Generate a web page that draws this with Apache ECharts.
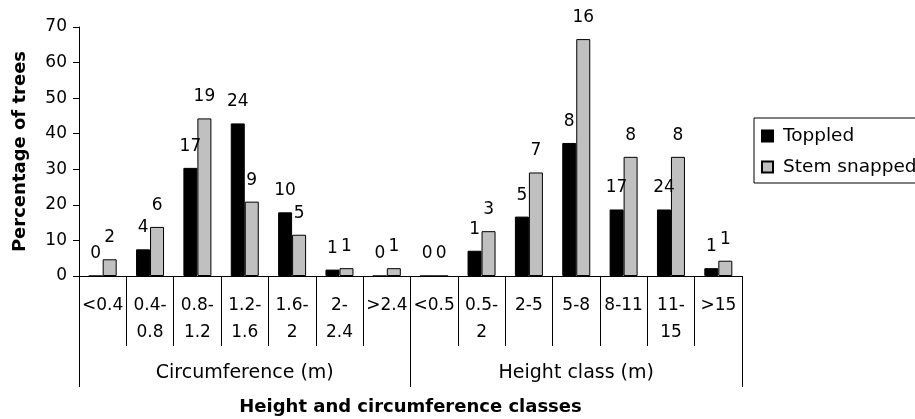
<!DOCTYPE html>
<html>
<head>
<meta charset="utf-8">
<script src="https://cdn.jsdelivr.net/npm/echarts@6/dist/echarts.min.js"></script>
<style>
html,body{margin:0;padding:0;background:#fff;}
#chart{width:915px;height:419px;}
</style>
</head>
<body>
<div id="chart"></div>
<script>
// Categories
var categories = ['<0.4','0.4-\n0.8','0.8-\n1.2','1.2-\n1.6','1.6-\n2','2-\n2.4','>2.4',
                  '<0.5','0.5-\n2','2-5','5-8','8-11','11-\n15','>15'];
var groups = ['Circumference (m)', 'Height class (m)'];
// Percentage of trees
var toppledPct = [0, 7.5, 30.4, 42.9, 17.9, 1.8, 0,   0, 7.1, 16.7, 37.4, 18.7, 18.7, 2.2];
var stemPct    = [4.7, 13.8, 44.3, 20.9, 11.6, 2.2, 2.2,   0, 12.6, 29.1, 66.6, 33.5, 33.5, 4.3];
// Counts shown above bars
var toppledCounts = [0, 4, 17, 24, 10, 1, 0,   0, 1, 5, 8, 17, 24, 1];
var stemCounts    = [2, 6, 19, 9, 5, 1, 1,   0, 3, 7, 16, 8, 8, 1];
var yTicks = {min: 0, max: 70, interval: 10};

var FONT = 'DejaVu Sans';
var chart = echarts.init(document.getElementById('chart'));
var labelStyle = {fontFamily: FONT, fontSize: 17, color: '#000'};
chart.setOption({
  animation: false,
  backgroundColor: '#fff',
  textStyle: {fontFamily: FONT, color: '#000'},
  grid: {left: 79, right: 173, top: 27, bottom: 143, containLabel: false, outerBoundsMode: 'none'},
  legend: {
    orient: 'vertical',
    left: 754, top: 118,
    padding: [7, 60, 5, 7],
    itemGap: 9,
    itemWidth: 11, itemHeight: 11,
    icon: 'rect',
    borderColor: '#000', borderWidth: 1,
    textStyle: {fontFamily: FONT, fontSize: 18.5, color: '#000', lineHeight: 22, padding: [0, 0, 0, 5]},
    data: ['Toppled', 'Stem snapped']
  },
  xAxis: [{
    type: 'category',
    data: categories,
    position: 'bottom',
    name: 'Height and circumference classes',
    nameLocation: 'middle',
    nameGap: 122,
    nameTextStyle: {fontFamily: FONT, fontSize: 18, fontWeight: 'bold', color: '#000', verticalAlign: 'top'},
    axisLine: {show: true, lineStyle: {color: '#000', width: 1}},
    axisTick: {show: true, interval: 0, length: 70, lineStyle: {color: '#000', width: 1}},
    axisLabel: {interval: 0, margin: 16, fontFamily: FONT, fontSize: 17, color: '#000', lineHeight: 27, verticalAlign: 'top'},
    splitLine: {show: false}
  }, {
    type: 'category',
    data: groups,
    position: 'bottom',
    axisLine: {show: false},
    axisTick: {show: true, interval: 0, length: 111, lineStyle: {color: '#000', width: 1}},
    axisLabel: {interval: 0, margin: 86, fontFamily: FONT, fontSize: 19, color: '#000', lineHeight: 22, verticalAlign: 'top'},
    splitLine: {show: false}
  }],
  yAxis: {
    type: 'value',
    min: yTicks.min, max: yTicks.max, interval: yTicks.interval,
    name: 'Percentage of trees',
    nameLocation: 'middle',
    nameGap: 50,
    nameRotate: 90,
    nameTextStyle: {fontFamily: FONT, fontSize: 18, fontWeight: 'bold', color: '#000'},
    axisLine: {show: true, lineStyle: {color: '#000', width: 1}},
    axisTick: {show: true, length: 6, lineStyle: {color: '#000'}},
    axisLabel: {margin: 12, fontFamily: FONT, fontSize: 17, color: '#000'},
    splitLine: {show: false}
  },
  series: [{
    name: 'Toppled',
    type: 'bar',
    xAxisIndex: 0,
    data: toppledPct,
    barWidth: 14,
    barGap: '0%',
    itemStyle: {color: '#000', borderColor: '#000', borderWidth: 1},
    label: Object.assign({show: true, position: 'top', distance: 13,
      formatter: function (p) { return String(toppledCounts[p.dataIndex]); }}, labelStyle)
  }, {
    name: 'Stem snapped',
    type: 'bar',
    xAxisIndex: 0,
    data: stemPct,
    barWidth: 14,
    barGap: '0%',
    itemStyle: {color: '#c0c0c0', borderColor: '#000', borderWidth: 1},
    label: Object.assign({show: true, position: 'top', distance: 13,
      formatter: function (p) { return String(stemCounts[p.dataIndex]); }}, labelStyle)
  }]
});
</script>
</body>
</html>
